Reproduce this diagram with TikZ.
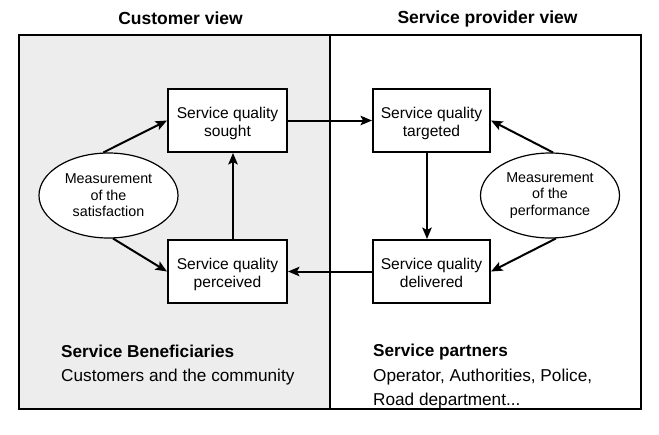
\documentclass[tikz,border=0pt]{standalone}
\usepackage{fontspec}
\setmainfont{Liberation Sans}
\usetikzlibrary{shapes.geometric,arrows.meta}
\definecolor{panel}{HTML}{EDEDED}
\newcommand{\boxtxt}[2]{\raisebox{-3.5pt}[\height][\depth]{\begin{tabular}{@{}c@{}}#1\\#2\end{tabular}}}
\begin{document}
\begin{tikzpicture}[x=1pt,y=-1pt,
  frameline/.style={line width=2pt},
  qbox/.style={draw,line width=2pt,fill=white,minimum width=119pt,minimum height=63pt,inner sep=0pt,font=\fontsize{15.6}{18}\selectfont},
  mellipse/.style={draw,ellipse,line width=1.2pt,fill=white,minimum width=139pt,minimum height=85pt,inner sep=0pt,align=center,font=\fontsize{14.3}{16.5}\selectfont},
  arr/.style={line width=2pt,-{Stealth[length=11.5pt,width=9.5pt,inset=2.5pt]}},
  title/.style={font=\bfseries\fontsize{17.5}{20}\selectfont},
  bottomtext/.style={anchor=base west,inner sep=0pt,font=\fontsize{17.2}{20}\selectfont},
  bottomhead/.style={anchor=base west,inner sep=0pt,font=\bfseries\fontsize{17.2}{20}\selectfont}]
\useasboundingbox (0,0) rectangle (659,434);
% panels
\fill[panel] (19,35) rectangle (330,409);
\draw[frameline] (19,35) rectangle (641,409);
\draw[frameline] (330,35) -- (330,409);
% titles
\node[title] (tcust) at (180.5,18.5) {Customer view};
\node[title] (tprov) at (487.5,18.5) {Service provider view};
% boxes
\node[qbox] (sought) at (227.5,120.5) {\boxtxt{Service quality}{sought}};
\node[qbox] (perceived) at (227.5,271.5) {\boxtxt{Service quality}{perceived}};
\node[qbox,minimum width=117pt] (targeted) at (431.5,120.5) {\boxtxt{Service quality}{targeted}};
\node[qbox,minimum width=117pt] (delivered) at (431.5,271.5) {\boxtxt{Service quality}{delivered}};
% ellipses
\node[mellipse] (ellL) at (108.5,195.5) {Measurement\\of the\\satisfaction};
\node[mellipse] (ellR) at (550,195.5) {Measurement\\of the\\performance};
% connectors
\draw[arr] (sought) -- (targeted);
\draw[arr] (delivered) -- (perceived);
\draw[arr] ([xshift=5.5pt]perceived.north) -- ([xshift=5.5pt]sought.south);
\draw[arr] ([xshift=-4.5pt]targeted.south) -- ([xshift=-4.5pt]delivered.north);
\draw[arr] (ellL.97) -- (sought.west);
\draw[arr] (ellL.-84) -- (perceived.west);
\draw[arr] (ellR.86) -- (targeted.east);
\draw[arr] (ellR.-82) -- (delivered.east);
% bottom texts
\node[bottomhead] (beneT) at (61,357) {Service Beneficiaries};
\node[bottomtext] (beneS) at (61,381) {Customers and the community};
\node[bottomhead] (partT) at (373,356) {Service partners};
\node[bottomtext] (partS1) at (373,381) {Operator, Authorities, Police,};
\node[bottomtext] (partS2) at (373,405) {Road department...};
\end{tikzpicture}
\end{document}
